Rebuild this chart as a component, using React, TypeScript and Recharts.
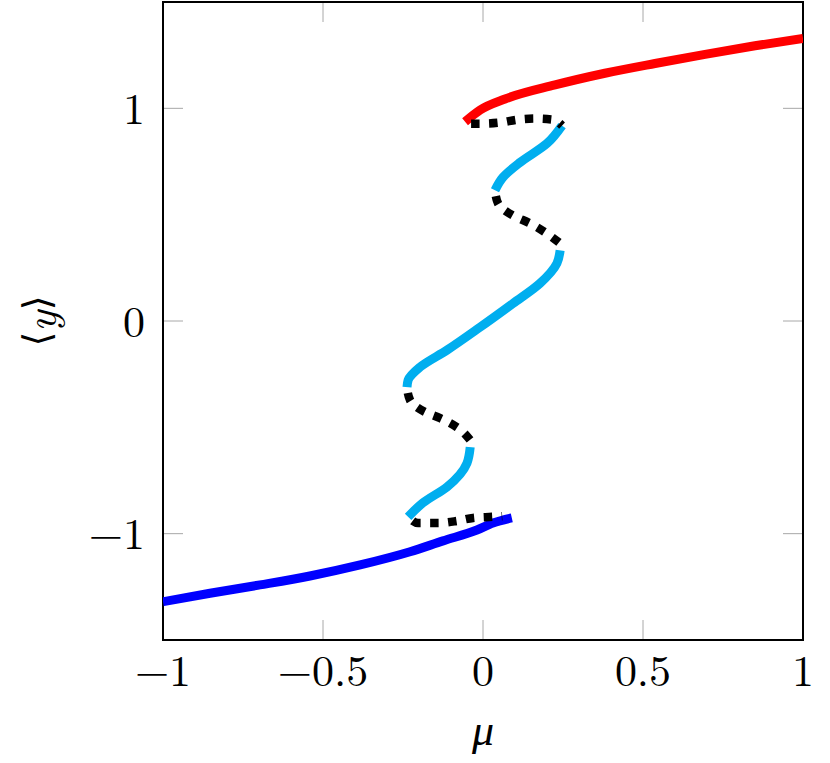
import { LineChart, Line, XAxis, YAxis, CartesianGrid, ReferenceArea, Label } from "recharts";

const serif = "'Latin Modern Roman', 'CMU Serif', 'Liberation Serif', serif";

const muTicks = [-1, -0.5, 0, 0.5, 1];
const yTicks = [-1, 0, 1];

// stable upper branch (red)
const upperMu = [-0.056, -0.009, 0.069, 0.225, 0.381, 0.5375, 0.694, 0.85, 1.0];
const upperY = [0.937, 0.992, 1.044, 1.11, 1.165, 1.211, 1.254, 1.294, 1.329];

// stable lower branch (blue)
const lowerMu = [-1, -0.853, -0.697, -0.541, -0.384, -0.228, -0.125, -0.019, 0.031, 0.09];
const lowerY = [-1.32, -1.28, -1.241, -1.199, -1.147, -1.085, -1.034, -0.983, -0.95, -0.926];

// intermediate branches (cyan)
const midTopMu = [0.247, 0.2, 0.116, 0.0625, 0.0375];
const midTopY = [0.919, 0.835, 0.746, 0.676, 0.615];
const midCenterMu = [0.241, 0.231, 0.178, 0.094, -0.009, -0.1125, -0.197, -0.234, -0.2375];
const midCenterY = [0.332, 0.271, 0.177, 0.083, -0.029, -0.137, -0.217, -0.278, -0.311];
const midBottomMu = [-0.04, -0.05, -0.1125, -0.1875, -0.234];
const midBottomY = [-0.593, -0.668, -0.78, -0.855, -0.921];

// unstable branches (dotted)
const unstTopMu = [-0.056, -0.003, 0.053, 0.109, 0.1625, 0.219, 0.247];
const unstTopY = [0.928, 0.928, 0.933, 0.947, 0.952, 0.947, 0.919];
const unstUpperMu = [0.0375, 0.047, 0.094, 0.147, 0.194, 0.241];
const unstUpperY = [0.615, 0.553, 0.496, 0.459, 0.417, 0.365];
const unstLowerMu = [-0.2375, -0.228, -0.181, -0.134, -0.081, -0.04];
const unstLowerY = [-0.311, -0.372, -0.428, -0.457, -0.5, -0.56];
const unstBottomMu = [-0.234, -0.203, -0.14, -0.081, -0.031, 0.028, 0.06];
const unstBottomY = [-0.921, -0.95, -0.95, -0.94, -0.926, -0.921, -0.918];

const pts = (mu: number[], y: number[]) => mu.map((m, i) => ({ mu: m, y: y[i] }));

const fmt = (v: number) => (v < 0 ? `\u2212${Math.abs(v)}` : `${v}`);

const tickStyle = { fill: "#000", fontSize: 44, fontFamily: serif };

const solid = { strokeWidth: 9, dot: false, activeDot: false, isAnimationActive: false, strokeLinecap: "butt" as const };
const dotted = { ...solid, strokeWidth: 8.5, stroke: "#000", strokeDasharray: "8.5 9.5", strokeDashoffset: 12 };

function YLabel(props: any) {
  const vb = props.viewBox || { x: 0, y: 0, height: 0 };
  const cx = vb.x + 37;
  const cy = vb.y + vb.height / 2;
  return (
    <text
      x={cx}
      y={cy}
      transform={`rotate(-90 ${cx} ${cy})`}
      textAnchor="middle"
      dominantBaseline="central"
      fontSize={44}
      fill="#000"
    >
      <tspan fontFamily="'DejaVu Serif', serif" fontSize={38}>{"\u27E8"}</tspan>
      <tspan fontFamily={serif} fontStyle="italic">y</tspan>
      <tspan fontFamily="'DejaVu Serif', serif" fontSize={38}>{"\u27E9"}</tspan>
    </text>
  );
}

export default function App() {
  return (
    <div style={{ position: "absolute", left: 0, top: 0 }}>
      <LineChart width={830} height={763} margin={{ top: 2, right: 27, bottom: 13, left: 0 }}>
        <CartesianGrid vertical horizontal={false} stroke="#a8a8a8" strokeDasharray="20 598 20" />
        <CartesianGrid horizontal vertical={false} stroke="#a8a8a8" strokeDasharray="20 600 20" />
        <XAxis
          type="number"
          dataKey="mu"
          domain={[-1, 1]}
          ticks={muTicks}
          allowDataOverflow
          tickFormatter={fmt}
          height={110}
          tickLine={false}
          axisLine={false}
          tickSize={0}
          tickMargin={15}
          tick={tickStyle}
        >
          <Label
            value="μ"
            position="insideBottom"
            offset={5}
            style={{ fontStyle: "italic", fontSize: 44, fill: "#000", fontFamily: serif }}
          />
        </XAxis>
        <YAxis
          type="number"
          domain={[-1.5, 1.5]}
          ticks={yTicks}
          allowDataOverflow
          tickFormatter={fmt}
          width={163}
          tickLine={false}
          axisLine={false}
          tickSize={0}
          tickMargin={18}
          tick={tickStyle}
        >
          <Label content={YLabel} />
        </YAxis>
        <Line data={pts(lowerMu, lowerY)} dataKey="y" type="monotoneX" stroke="#0000ff" {...solid} />
        <Line data={pts(upperMu, upperY)} dataKey="y" type="monotoneX" stroke="#ff0000" {...solid} />
        <Line data={pts(midTopMu, midTopY)} dataKey="y" type="monotoneY" stroke="#00aeef" {...solid} />
        <Line data={pts(midCenterMu, midCenterY)} dataKey="y" type="monotoneY" stroke="#00aeef" {...solid} />
        <Line data={pts(midBottomMu, midBottomY)} dataKey="y" type="monotoneY" stroke="#00aeef" {...solid} />
        <Line data={pts(unstTopMu, unstTopY)} dataKey="y" type="monotoneX" {...dotted} />
        <Line data={pts(unstUpperMu, unstUpperY)} dataKey="y" type="monotoneY" {...dotted} />
        <Line data={pts(unstLowerMu, unstLowerY)} dataKey="y" type="monotoneY" {...dotted} />
        <Line data={pts(unstBottomMu, unstBottomY)} dataKey="y" type="monotoneX" {...dotted} />
        <ReferenceArea x1={-1} x2={1} y1={-1.5} y2={1.5} fill="none" fillOpacity={0} stroke="#000" strokeWidth={2} ifOverflow="visible" />
      </LineChart>
    </div>
  );
}
